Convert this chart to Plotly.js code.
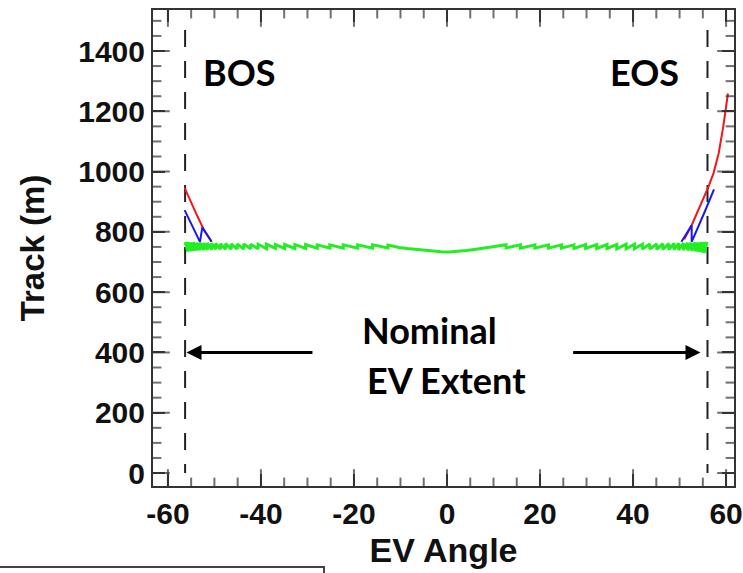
<!DOCTYPE html>
<html>
<head>
<meta charset="utf-8">
<script src="https://cdn.plot.ly/plotly-3.0.1.min.js"></script>
<style>
  html, body { margin:0; padding:0; background:#fff; }
  #chart { width:743px; height:573px; position:relative; }
  #frag { position:absolute; left:0; top:566px; width:323px; height:10px;
          border-top:2px solid #444; border-right:2px solid #444; }
</style>
</head>
<body>
<div id="chart"></div>
<div id="frag"></div>
<script>
// ---- data ----
const greenX = [-56.3,-55.7,-55.7,-55.1,-55.1,-54.5,-54.5,-53.8,-53.8,-53.1,-53.1,-52.3,-52.3,-51.5,-51.5,-50.6,-50.6,-49.7,-49.7,-48.7,-48.7,-47.6,-47.6,-46.4,-46.4,-45.1,-45.1,-43.7,-43.7,-42.2,-42.2,-40.6,-40.6,-38.8,-38.8,-36.9,-36.9,-34.9,-34.9,-32.7,-32.7,-30.4,-30.4,-27.9,-27.9,-25.2,-25.2,-22.3,-22.3,-19.2,-19.2,-16.0,-16.0,-12.7,-12.7,
  -11.5,-10.3,-8.5,-6.7,-4.9,-3.1,-1.3,0.5,2.3,4.1,5.9,7.7,9.5,11.3,12.7,
  12.7,15.8,15.8,18.9,18.9,21.8,21.8,24.6,24.6,27.3,27.3,29.8,29.8,32.2,32.2,34.4,34.4,36.5,36.5,38.5,38.5,40.3,40.3,42.0,42.0,43.6,43.6,45.1,45.1,46.4,46.4,47.7,47.7,48.8,48.8,49.8,49.8,50.8,50.8,51.7,51.7,52.5,52.5,53.3,53.3,54.0,54.0,54.7,54.7,55.3,55.3,55.9];
const greenY = [766,735,766,736,765,737,765,738,764,739,764,740,763,741,763,741,762,742,762,742,761,742,761,743,760,743,760,743,760,744,759,744,759,744,759,745,758,745,758,745,758,745,758,746,757,746,757,746,757,746,757,746,757,747,756,
  752,748.5,745,742,738,735.5,734,733.5,735,738,741.5,745,749,753,757,
  747,757,746,757,746,757,746,757,746,757,745,758,745,758,745,758,745,758,744,759,744,759,744,759,743,760,743,760,742,761,742,761,741,762,741,762,740,763,740,764,739,764,738,765,736,765,734,766,732,766,730,767];

const redLeftX = [-56.4,-55.0,-53.6,-52.2,-50.6];
const redLeftY = [946,895,850,805,767];
const redRightX = [51.0,52.6,53.7,55.0,56.2,57.3,58.4,59.4,60.4];
const redRightY = [775,822,861,905,949,995,1060,1150,1259];

const blueLeftX = [-56.4,-55.0,-53.1,-52.6,-51.6,-50.6];
const blueLeftY = [872,825,767,815,790,767];
const blueRightX = [50.4,51.5,52.6,52.6,54.0,55.5,57.4];
const blueRightY = [767,793,822,767,815,870,941];

const bosX = [-56.3,-56.3];
const eosX = [56.0,56.0];
const edgeY = [1470,0];

const xTicks = [-60,-40,-20,0,20,40,60];
const xTickText = ['-60','-40','-20','0','20','40','60'];
const yTicks = [0,200,400,600,800,1000,1200,1400];
const yTickText = ['0','200','400','600','800','1000','1200','1400'];
const xMinorStep = 5, yMinorStep = 50;

const redC = '#f01818', blueC = '#1818f0', greenC = '#22ee22';
const TC = '#333';

const W = 743, H = 573, M = {l:153, r:9, t:10, b:87};
const XR = [-63.2, 61.7], YR = [-43, 1536];

// tick-mark positions along the frame (markers centred on the frame, clipped to the inside)
const mxX = [], mxY = [], mxS = [];
for (let v = xTicks[0]; v <= xTicks[xTicks.length-1]; v += xMinorStep) {
  const s = xTicks.includes(v) ? 24 : 12;
  mxX.push(v, v); mxY.push(YR[0], YR[1]); mxS.push(s, s);
}
const myX = [], myY = [], myS = [];
for (let v = 0; v <= YR[1]; v += yMinorStep) {
  const s = yTicks.includes(v) ? 24 : 12;
  myX.push(XR[0], XR[1]); myY.push(v, v); myS.push(s, s);
}

const traces = [
  {x: bosX, y: edgeY, mode:'lines', line:{color:'#222', width:2, dash:'17px,14px'}, hoverinfo:'skip'},
  {x: eosX, y: edgeY, mode:'lines', line:{color:'#222', width:2, dash:'17px,14px'}, hoverinfo:'skip'},
  {x: redLeftX, y: redLeftY, mode:'lines', line:{color:redC, width:2}},
  {x: redRightX, y: redRightY, mode:'lines', line:{color:redC, width:2}},
  {x: blueLeftX, y: blueLeftY, mode:'lines', line:{color:blueC, width:2}},
  {x: blueRightX, y: blueRightY, mode:'lines', line:{color:blueC, width:2}},
  {x: greenX, y: greenY, mode:'lines', line:{color:greenC, width:3}},
  {x: mxX, y: mxY, mode:'markers', hoverinfo:'skip', cliponaxis:true,
   marker:{symbol:'line-ns-open', size:mxS, color:TC, line:{color:TC, width:2}}},
  {x: myX, y: myY, mode:'markers', hoverinfo:'skip', cliponaxis:true,
   marker:{symbol:'line-ew-open', size:myS, color:TC, line:{color:TC, width:2}}}
];

const tickFont = {family:'Liberation Sans, Arial, sans-serif', size:30, weight:'bold', color:'#111'};
const annFont = {family:'Lato, Open Sans, sans-serif', size:36, weight:'bold', color:'#000'};

const layout = {
  width:W, height:H,
  margin:M,
  paper_bgcolor:'#fff', plot_bgcolor:'#fff',
  showlegend:false,
  xaxis:{
    range:XR, tickmode:'array', tickvals:xTicks, ticktext:xTickText,
    ticks:'inside', ticklen:12, tickwidth:2, tickcolor:TC,
    showline:true, linecolor:TC, linewidth:2, mirror:'ticks',
    showgrid:false, zeroline:false, tickfont:tickFont,
    title:{text:'EV Angle', font:{family:'Liberation Sans, Arial, sans-serif', size:34, weight:'bold', color:'#111'}, standoff:9}
  },
  yaxis:{
    range:YR, tickmode:'array', tickvals:yTicks, ticktext:yTickText,
    ticks:'inside', ticklen:12, tickwidth:2, tickcolor:TC,
    showline:true, linecolor:TC, linewidth:2, mirror:'ticks',
    showgrid:false, zeroline:false, tickfont:tickFont,
    title:{text:'Track (m)', font:{family:'Liberation Sans, Arial, sans-serif', size:33, weight:'bold', color:'#111'}, standoff:24}
  },
  annotations:[
    {xref:'x', yref:'y', x:-44.5, y:1330, text:'BOS', showarrow:false, font:annFont},
    {xref:'x', yref:'y', x:42.5, y:1330, text:'EOS', showarrow:false, font:annFont},
    {xref:'x', yref:'y', x:-3.8, y:475, text:'Nominal', showarrow:false, font:annFont},
    {xref:'x', yref:'y', x:0, y:308, text:'EV Extent', showarrow:false, font:annFont},
    {xref:'x', yref:'y', axref:'x', ayref:'y', x:-56.0, y:400, ax:-28.6, ay:400, text:'', showarrow:true, arrowhead:2, arrowsize:1, arrowwidth:3, arrowcolor:'#000', standoff:0},
    {xref:'x', yref:'y', axref:'x', ayref:'y', x:54.5, y:400, ax:26.8, ay:400, text:'', showarrow:true, arrowhead:2, arrowsize:1, arrowwidth:3, arrowcolor:'#000', standoff:0}
  ]
};

Plotly.newPlot('chart', traces, layout, {displayModeBar:false, staticPlot:true});
</script>
</body>
</html>
